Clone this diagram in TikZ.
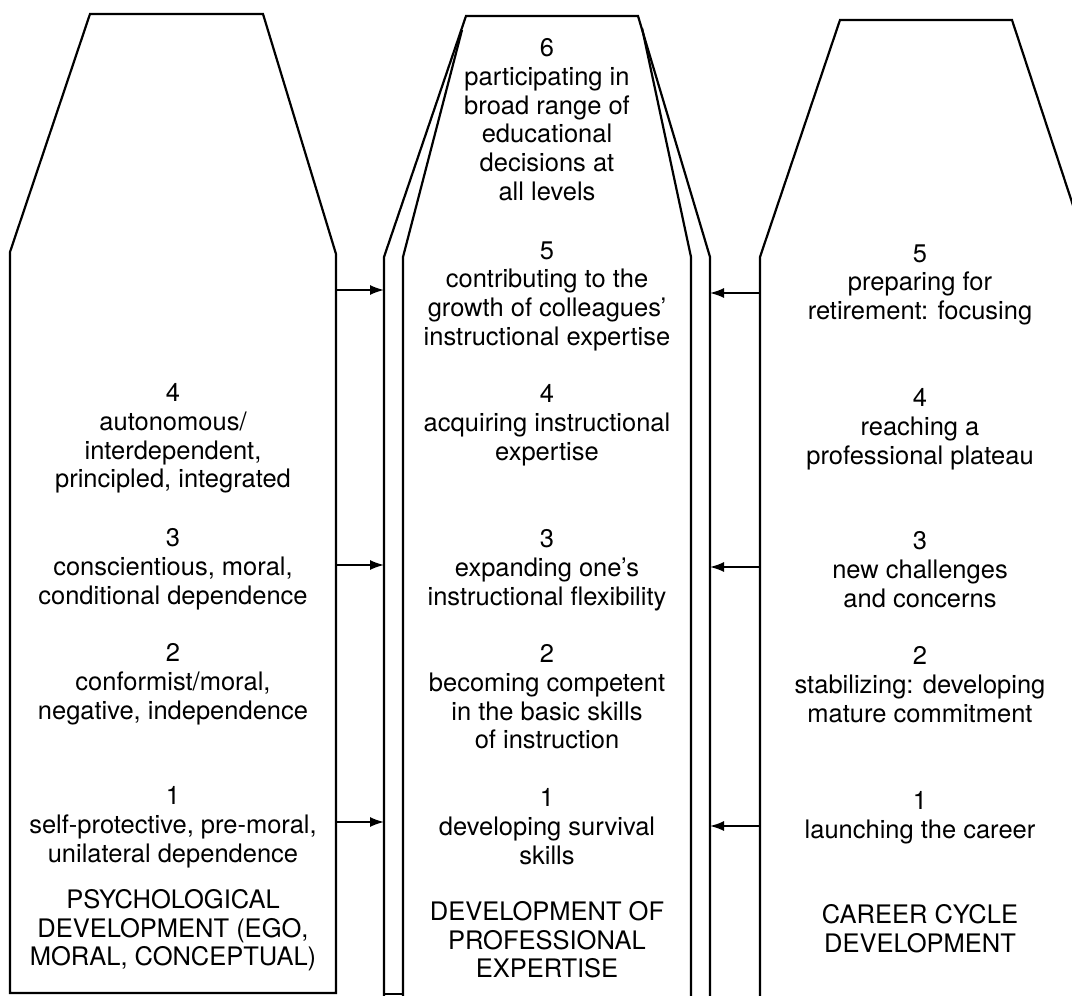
\documentclass[tikz,border=0pt]{standalone}
\usepackage{fontspec}
\setmainfont{TeX Gyre Heros}
\usetikzlibrary{arrows.meta}
\begin{document}
\begin{tikzpicture}[x=1pt,y=-1pt,
  outline/.style={line width=2.2pt, line join=miter},
  feed/.style={line width=1.7pt, -{Latex[length=14pt,width=10pt]}},
  stage/.style={inner sep=0pt, anchor=north, align=center,
                font=\fontsize{25.5}{28.8}\selectfont},
]
\useasboundingbox (0,0) rectangle (1072,996);
\clip (0,0) rectangle (1072,996);

% psychological development column
\draw[outline] (10,993) -- (10,252) -- (90,14) -- (263,14) -- (336,254) -- (336,993) -- cycle;

% professional expertise column (double outline)
\draw[outline] (384,1005) -- (384,257) -- (466,16) -- (638,16) -- (710,257) -- (710,1005);
\draw[outline] (403,1005) -- (403,257) -- (462,30);
\draw[outline] (642,28) -- (691,257) -- (691,1005);
\draw[outline] (384,994) -- (403,994);

% career cycle column
\draw[outline] (760,1005) -- (760,257) -- (840,20) -- (1012,20) -- (1090,257) -- (1090,1005);

% arrow end points on the column edges
\coordinate (psyA) at (336,290);
\coordinate (psyB) at (336,565);
\coordinate (psyC) at (336,822);
\coordinate (proLA) at (384,290);
\coordinate (proLB) at (384,565);
\coordinate (proLC) at (384,822);
\coordinate (carA) at (760,293);
\coordinate (carB) at (760,567);
\coordinate (carC) at (760,826);
\coordinate (proRA) at (710,293);
\coordinate (proRB) at (710,567);
\coordinate (proRC) at (710,826);

\draw[feed] (psyA) -- (proLA);
\draw[feed] (psyB) -- (proLB);
\draw[feed] (psyC) -- (proLC);
\draw[feed] (carA) -- (proRA);
\draw[feed] (carB) -- (proRB);
\draw[feed] (carC) -- (proRC);

% stages: psychological development
\node[stage] (psy4) at (173,383.2) {4\\autonomous/\\interdependent,\\principled, integrated};
\node[stage] (psy3) at (173,528.2) {3\\conscientious, moral,\\conditional dependence};
\node[stage] (psy2) at (173,643.2) {2\\conformist/moral,\\negative, independence};
\node[stage] (psy1) at (173,786.2) {1\\self-protective, pre-moral,\\unilateral dependence};
\node[stage] (psyT) at (173,889) {PSYCHOLOGICAL\\DEVELOPMENT (EGO,\\MORAL, CONCEPTUAL)};

% stages: professional expertise
\node[stage] (pro6) at (547,38.2) {6\\participating in\\broad range of\\educational\\decisions at\\all levels};
\node[stage] (pro5) at (547,241.2) {5\\contributing to the\\growth of colleagues’\\instructional expertise};
\node[stage] (pro4) at (547,384.2) {4\\acquiring instructional\\expertise};
\node[stage] (pro3) at (547,529.2) {3\\expanding one’s\\instructional flexibility};
\node[stage] (pro2) at (547,644.2) {2\\becoming competent\\in the basic skills\\of instruction};
\node[stage] (pro1) at (547,788.2) {1\\developing survival\\skills};
\node[stage] (proT) at (547,901) {DEVELOPMENT OF\\PROFESSIONAL\\EXPERTISE};

% stages: career cycle
\node[stage] (car5) at (920,244.2) {5\\preparing for\\retirement: focusing};
\node[stage] (car4) at (920,388.2) {4\\reaching a\\professional plateau};
\node[stage] (car3) at (920,531.2) {3\\new challenges\\and concerns};
\node[stage] (car2) at (920,646.2) {2\\stabilizing: developing\\mature commitment};
\node[stage] (car1) at (920,791.2) {1\\launching the career};
\node[stage] (carT) at (920,904) {CAREER CYCLE\\DEVELOPMENT};
\end{tikzpicture}
\end{document}
